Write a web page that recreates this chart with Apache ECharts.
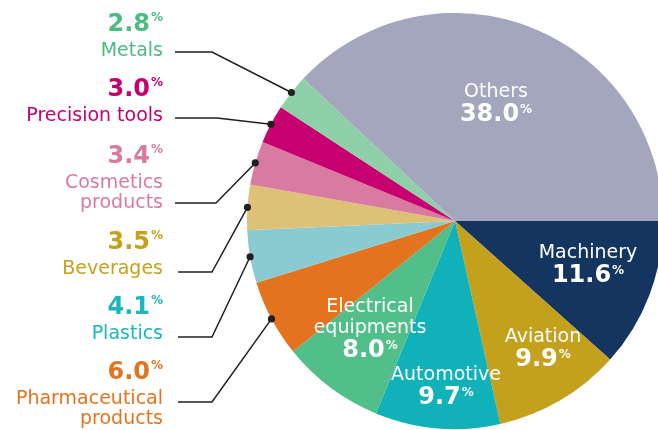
<!DOCTYPE html>
<html lang="en">
<head>
    <meta charset="UTF-8">
    <title>Share by industry</title>
    <script src="https://cdn.jsdelivr.net/npm/echarts@6/dist/echarts.min.js"></script>
    <style>
        html, body { margin: 0; padding: 0; background: #fff; }
        #pie_show { width: 658px; height: 430px; }
    </style>
</head>
<body>
    <div id="pie_show"></div>
    <script>
        // data, clockwise from 3 o'clock
        var categories = ['Machinery', 'Aviation', 'Automotive', 'Electrical\nequipments', 'Pharmaceutical\nproducts',
            'Plastics', 'Beverages', 'Cosmetics\nproducts', 'Precision tools', 'Metals', 'Others'];
        var shares = [11.6, 9.9, 9.7, 8.0, 6.0, 4.1, 3.5, 3.4, 3.0, 2.8, 38.0];

        var sliceColors = ['#13355f', '#c4a11d', '#10b1b9', '#52be89', '#e3731f',
            '#89cbd1', '#ddc176', '#d97aa0', '#c6006f', '#8fd0a9', '#a3a6bd'];
        var textColors = ['#fff', '#fff', '#fff', '#fff', '#e3731f',
            '#1ab5be', '#c4a11d', '#d97aa0', '#c6006f', '#4cbb80', '#fff'];

        // pie geometry
        var cx = 455, cy = 221, R = 208;
        // label spots: inside -> [x centre, y top]; outside -> [x right, y top, line y, elbow x, end x]
        var spots = [
            [588, 243], [543, 327], [446, 365], [370, 297],
            [163, 357, 402, 212, 178],
            [163, 292, 337, 212, 178],
            [163, 227, 272, 212, 178],
            [163, 141, 203, 216, 175],
            [163, 74, 118, 217, 175],
            [163, 9, 52, 212, 175],
            [496, 82]
        ];

        var myChart = echarts.init(document.getElementById('pie_show'));

        var total = 0;
        for (var i = 0; i < shares.length; i++) total += shares[i];

        // edge point at the middle of every slice
        var edges = [];
        var cum = 0;
        for (var i = 0; i < shares.length; i++) {
            var a = (cum + shares[i] / 2) / total * Math.PI * 2;
            edges.push([cx + R * Math.cos(a), cy + R * Math.sin(a)]);
            cum += shares[i];
        }

        var data = [];
        var dots = [];
        for (var i = 0; i < categories.length; i++) {
            var outside = spots[i].length > 2;
            data.push({
                name: categories[i],
                value: shares[i],
                itemStyle: { color: sliceColors[i] },
                label: { color: textColors[i] },
                labelLine: { show: outside }
            });
            if (outside) {
                dots.push({
                    type: 'circle',
                    z: 100,
                    shape: { cx: edges[i][0], cy: edges[i][1], r: 3.6 },
                    style: { fill: '#231f20' }
                });
            }
        }

        var font = '"DejaVu Sans", sans-serif';

        var option = {
            animation: false,
            graphic: dots,
            series: [
                {
                    type: 'pie',
                    center: [cx, cy],
                    radius: R,
                    startAngle: 0,
                    clockwise: true,
                    avoidLabelOverlap: false,
                    emphasis: { disabled: true },
                    itemStyle: { borderWidth: 0 },
                    label: {
                        show: true,
                        position: 'outside',
                        fontFamily: font,
                        formatter: function (p) {
                            var v = p.value.toFixed(1);
                            if (spots[p.dataIndex].length > 2) {
                                return '{v|' + v + '}{p|%}\n{n|' + p.name + '}';
                            }
                            return '{ni|' + p.name + '}\n{vi|' + v + '}{pi|%}';
                        },
                        rich: {
                            v: { fontFamily: font, fontSize: 24, fontWeight: 'bold', lineHeight: 32 },
                            p: { fontFamily: font, fontSize: 12, fontWeight: 'bold', lineHeight: 32, verticalAlign: 'top', padding: [3, 0, 0, 1] },
                            n: { fontFamily: font, fontSize: 19, lineHeight: 20 },
                            vi: { fontFamily: font, fontSize: 24, fontWeight: 'bold', lineHeight: 24 },
                            pi: { fontFamily: font, fontSize: 12, fontWeight: 'bold', lineHeight: 24, verticalAlign: 'top', padding: [1, 0, 0, 1] },
                            ni: { fontFamily: font, fontSize: 19, lineHeight: 21 }
                        }
                    },
                    labelLine: {
                        show: true,
                        lineStyle: { color: '#231f20', width: 1.5 }
                    },
                    labelLayout: function (params) {
                        var s = spots[params.dataIndex];
                        if (s.length > 2) {
                            var e = edges[params.dataIndex];
                            return {
                                x: s[0], y: s[1], align: 'right', verticalAlign: 'top',
                                labelLinePoints: [[e[0], e[1]], [s[3], s[2]], [s[4], s[2]]]
                            };
                        }
                        return { x: s[0], y: s[1], align: 'center', verticalAlign: 'top' };
                    },
                    data: data
                }
            ]
        };

        myChart.setOption(option);
    </script>
</body>
</html>
